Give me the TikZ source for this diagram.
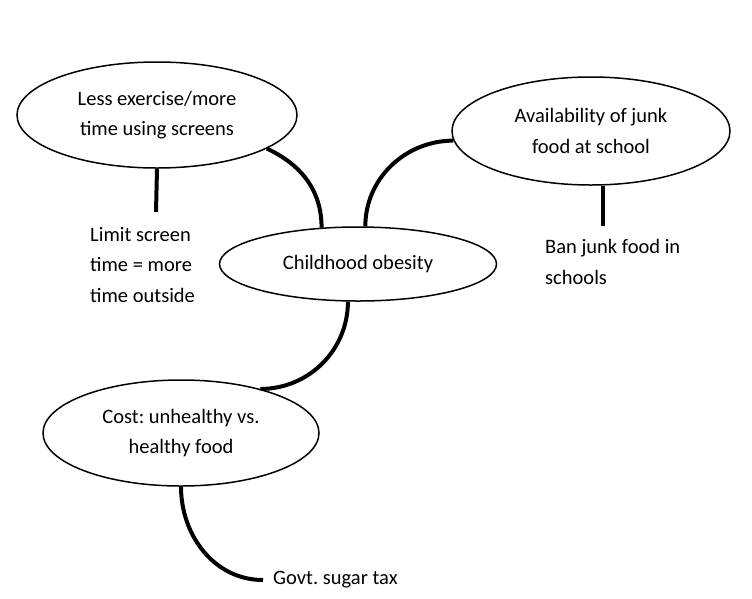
\documentclass[tikz,border=0pt]{standalone}
\usepackage{fontspec}
\setmainfont{Carlito}
\usetikzlibrary{shapes.geometric}
\begin{document}
\frenchspacing
\begin{tikzpicture}[x=1pt,y=-1pt,
  every node/.style={font=\fontsize{20.5}{30.5}\selectfont},
  bubble/.style={ellipse,draw,line width=1.5pt,inner sep=0pt,align=center},
  link/.style={line width=4pt},
  note/.style={anchor=west,align=left,inner sep=0pt}]
\useasboundingbox (0,0) rectangle (752,598);
\node[bubble,minimum width=280,minimum height=106] (e1) at (157,115) {Less exercise/more\\time using screens};
\node[bubble,minimum width=278,minimum height=108] (e2) at (591,131) {Availability of junk\\food at school};
\node[bubble,minimum width=277,minimum height=74] (e3) at (358,264) {Childhood obesity};
\node[bubble,minimum width=276,minimum height=106] (e4) at (181,433) {Cost: unhealthy vs.\\healthy food};
\node[note] (t1) at (90,265) {Limit screen\\time = more\\time outside};
\node[note] (t2) at (545,262) {Ban junk food in\\schools};
\node[note,inner xsep=10pt] (t3) at (263,580) {Govt. sugar tax};
\coordinate (c1) at (156,212);
\coordinate (c2) at (603,226);
\draw[link] (e1.south) -- (c1);
\draw[link] (e2.south -| c2) -- (c2);
\draw[link] (e1.-17.4) to[out=-25,in=90] (e3.135.8);
\draw[link] (e3.79) to[out=90,in=180] (e2.184);
\draw[link] (e3.255) to[out=-90,in=0] (e4.29.7);
\draw[link] (e4.south) to[out=-90,in=180] (t3.west);
\end{tikzpicture}
\end{document}
